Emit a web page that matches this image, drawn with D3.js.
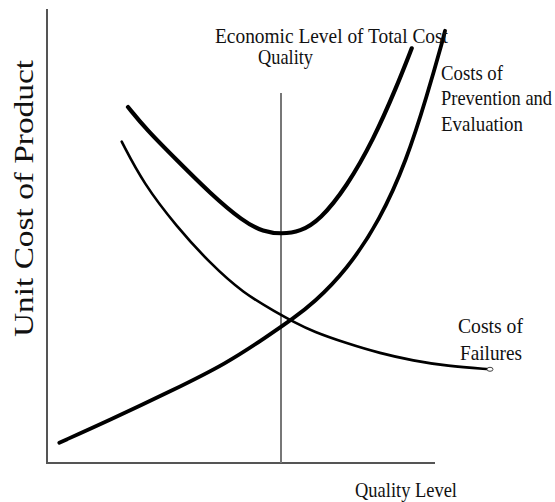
<!DOCTYPE html>
<html>
<head>
<meta charset="utf-8">
<script src="https://cdnjs.cloudflare.com/ajax/libs/d3/7.8.5/d3.min.js"></script>
<style>
  body { margin: 0; background: #fff; }
  text { font-family: "Liberation Serif", "Times New Roman", serif; fill: #111; }
</style>
</head>
<body>
<svg id="chart"></svg>
<script>
// quality level (x) vs unit cost (y), both on a 0-100 schematic scale
var preventionX = [3.08, 14.93, 31.58, 44.93, 54.93, 61.58, 66.58, 74.93, 83.25, 89.93, 94.93, 99.08, 99.5];
var preventionY = [4.47, 9.14, 16.08, 21.96, 27.82, 31.87, 35.18, 42.51, 53.52, 66.74, 80.68, 93.55, 95.2];

var totalX = [20.25, 24.93, 32.43, 40.75, 49.08, 54.08, 58.68, 63.25, 68.25, 74.93, 81.58, 87.43, 91.18];
var totalY = [78.41, 73.35, 66.74, 59.41, 53.15, 50.95, 50.44, 50.95, 53.52, 60.86, 71.15, 82.89, 91.34];

var failuresX = [18.68, 24.08, 32.43, 40.75, 49.08, 57.43, 61.58, 66.58, 74.93, 83.25, 91.58, 99.93, 110.75];
var failuresY = [70.77, 61.61, 52.05, 43.99, 37.38, 33.15, 31.12, 28.92, 26.37, 24.16, 22.53, 21.37, 20.64];

var economicLevel = 58.5;

function main() {
	var width = 555,
		height = 502;

	var svg = d3.select("#chart")
		.attr("width", width)
		.attr("height", height);

	var xScale = d3.scaleLinear()
		.domain([0, 100])
		.range([47, 447]);

	var yScale = d3.scaleLinear()
		.domain([0, 100])
		.range([463, 9]);

	function zipPts(xs, ys) {
		return xs.map(function (x, i) {
			return [x, ys[i]];
		});
	}

	// basis smooths out the small reading errors in the traced points
	var line = d3.line()
		.x(function (d) { return xScale(d[0]); })
		.y(function (d) { return yScale(d[1]); })
		.curve(d3.curveBasis);

	// axes frame
	svg.append("line")
		.attr("x1", 47).attr("y1", 9)
		.attr("x2", 47).attr("y2", 463)
		.attr("stroke", "#555")
		.attr("stroke-width", 2);
	svg.append("line")
		.attr("x1", 46).attr("y1", 463)
		.attr("x2", 435).attr("y2", 463)
		.attr("stroke", "#555")
		.attr("stroke-width", 2);

	// economic level of quality
	svg.append("line")
		.attr("x1", xScale(economicLevel)).attr("y1", 93)
		.attr("x2", xScale(economicLevel)).attr("y2", 463)
		.attr("stroke", "#777")
		.attr("stroke-width", 2);

	var failPts = zipPts(failuresX, failuresY);

	svg.append("path")
		.datum(failPts)
		.attr("d", line)
		.attr("fill", "none")
		.attr("stroke", "#000")
		.attr("stroke-width", 2.6)
		.attr("stroke-linecap", "round");

	// little open end mark on the failures curve
	svg.append("ellipse")
		.attr("cx", xScale(failPts[failPts.length - 1][0]))
		.attr("cy", yScale(failPts[failPts.length - 1][1]))
		.attr("rx", 3)
		.attr("ry", 2)
		.attr("fill", "#fff")
		.attr("stroke", "#444")
		.attr("stroke-width", 1);

	svg.append("path")
		.datum(zipPts(preventionX, preventionY))
		.attr("d", line)
		.attr("fill", "none")
		.attr("stroke", "#000")
		.attr("stroke-width", 3.8)
		.attr("stroke-linecap", "round");

	svg.append("path")
		.datum(zipPts(totalX, totalY))
		.attr("d", line)
		.attr("fill", "none")
		.attr("stroke", "#000")
		.attr("stroke-width", 4.2)
		.attr("stroke-linecap", "round");

	function label(x, y, str, size, len) {
		svg.append("text")
			.attr("x", x)
			.attr("y", y)
			.style("font-size", size + "px")
			.attr("textLength", len)
			.attr("lengthAdjust", "spacingAndGlyphs")
			.text(str);
	}

	label(215, 43, "Economic Level of  Total Cost", 22, 233);
	label(258, 64, "Quality", 22, 55);
	label(441, 80, "Costs of", 22, 62);
	label(441, 105, "Prevention and", 22, 111);
	label(441, 131, "Evaluation", 22, 82);
	label(458, 333, "Costs  of", 22, 65);
	label(460, 360, "Failures", 22, 62);
	label(355, 497, "Quality Level", 22, 102);

	svg.append("text")
		.attr("transform", "translate(33,337) rotate(-90)")
		.style("font-size", "28px")
		.attr("textLength", 277)
		.attr("lengthAdjust", "spacingAndGlyphs")
		.text("Unit Cost of Product");
}

main();
</script>
</body>
</html>
